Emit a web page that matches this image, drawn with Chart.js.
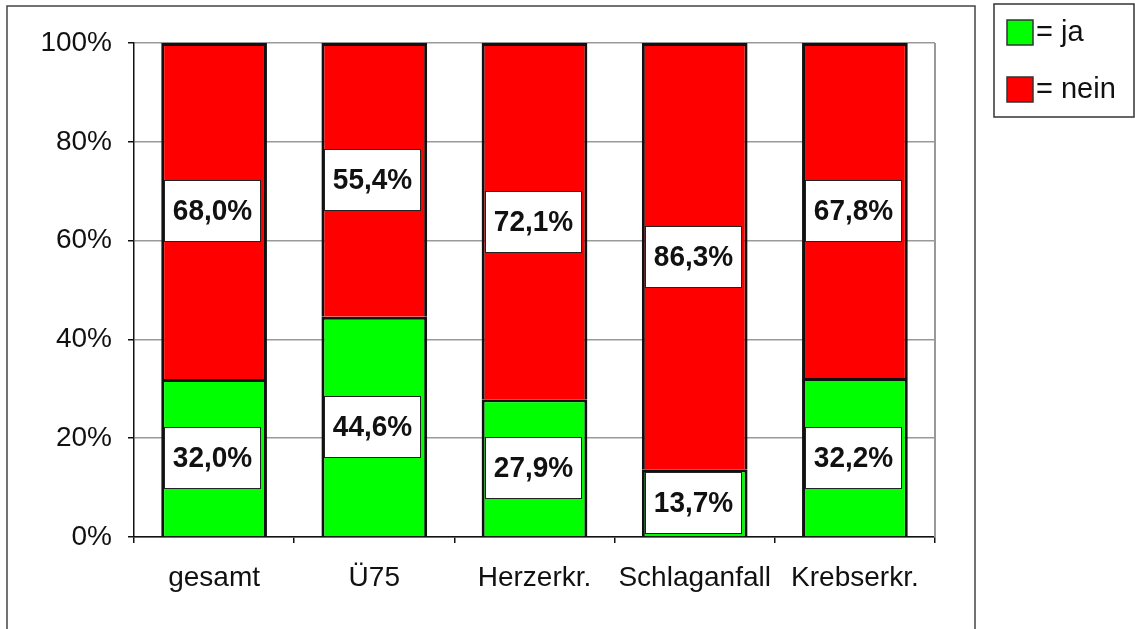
<!DOCTYPE html>
<html>
<head>
<meta charset="utf-8">
<script src="https://cdn.jsdelivr.net/npm/chart.js@4/dist/chart.umd.min.js"></script>
<style>
  body { margin: 0; background: #fff; }
  #wrap { width: 1135px; height: 629px; }
</style>
</head>
<body>
<div id="wrap"><canvas id="c" width="1135" height="629"></canvas></div>
<script>
const categories = ['gesamt', 'Ü75', 'Herzerkr.', 'Schlaganfall', 'Krebserkr.'];
const jaValues = [32.0, 44.6, 27.9, 13.7, 32.2];
const neinValues = [68.0, 55.4, 72.1, 86.3, 67.8];
const seriesNames = ['ja', 'nein'];
const seriesColors = ['#00ff00', '#ff0000'];
const yTicks = [0, 20, 40, 60, 80, 100];

const FONT = '"Liberation Sans", Arial, sans-serif';

// frame, plot border, value boxes and legend box (excel style)
const decor = {
  id: 'decor',
  beforeDraw(chart) {
    const ctx = chart.ctx;
    ctx.save();
    ctx.fillStyle = '#fff';
    ctx.fillRect(0, 0, chart.width, chart.height);
    ctx.strokeStyle = '#444';
    ctx.lineWidth = 1.5;
    ctx.strokeRect(7, 6, 968, 640);
    ctx.restore();
  },
  beforeDatasetsDraw(chart) {
    const ctx = chart.ctx, a = chart.chartArea;
    ctx.save();
    ctx.strokeStyle = '#999';
    ctx.lineWidth = 2;
    ctx.beginPath();
    ctx.moveTo(a.right, a.top);
    ctx.lineTo(a.right, a.bottom);
    ctx.stroke();
    ctx.restore();
  },
  afterDatasetsDraw(chart) {
    const ctx = chart.ctx;
    ctx.save();
    chart.data.datasets.forEach((ds, i) => {
      chart.getDatasetMeta(i).data.forEach((bar, j) => {
        const cy = (bar.y + bar.base) / 2;
        const txt = ds.data[j].toFixed(1).replace('.', ',') + '%';
        const w = 96, h = 61;
        const x0 = Math.round(bar.x - w / 2 - 2) + 0.5, y0 = Math.round(cy - h / 2) + 0.5;
        ctx.fillStyle = '#fff';
        ctx.fillRect(x0, y0, w, h);
        ctx.strokeStyle = '#222';
        ctx.lineWidth = 1;
        ctx.strokeRect(x0, y0, w, h);
        ctx.fillStyle = '#111';
        ctx.font = 'bold 28px ' + FONT;
        ctx.textAlign = 'center';
        ctx.textBaseline = 'middle';
        ctx.save();
        ctx.translate(x0 + w / 2, y0 + h / 2 + 1);
        ctx.scale(1, 1.08);
        ctx.fillText(txt, 0, 0);
        ctx.restore();
      });
    });
    ctx.restore();
  },
  afterDraw(chart) {
    const ctx = chart.ctx;
    ctx.save();
    ctx.strokeStyle = '#333';
    ctx.lineWidth = 1.5;
    ctx.strokeRect(994, 4, 140, 113);
    chart.data.datasets.forEach((ds, i) => {
      const y = 20 + i * 57;
      ctx.fillStyle = ds.backgroundColor;
      ctx.fillRect(1007, y, 26, 25);
      ctx.strokeStyle = '#333';
      ctx.lineWidth = 1.5;
      ctx.strokeRect(1007, y, 26, 25);
      ctx.fillStyle = '#111';
      ctx.font = '29px ' + FONT;
      ctx.textAlign = 'left';
      ctx.textBaseline = 'middle';
      ctx.fillText('= ' + ds.label, 1036, y + 13);
    });
    ctx.restore();
  }
};

new Chart(document.getElementById('c'), {
  type: 'bar',
  data: {
    labels: categories,
    datasets: [
      { label: seriesNames[0], data: jaValues, backgroundColor: seriesColors[0] },
      { label: seriesNames[1], data: neinValues, backgroundColor: seriesColors[1] }
    ]
  },
  options: {
    responsive: false,
    animation: false,
    layout: { padding: { left: 0, right: 200, top: 43, bottom: 0 } },
    datasets: {
      bar: {
        borderColor: '#111',
        borderWidth: 3,
        categoryPercentage: 1,
        barPercentage: 0.66
      }
    },
    plugins: {
      legend: { display: false },
      tooltip: { enabled: false }
    },
    scales: {
      x: {
        stacked: true,
        afterFit(s) { s.height = 92; },
        grid: { offset: true, drawOnChartArea: false, drawTicks: true, tickLength: 6, color: '#111', lineWidth: 1.5 },
        border: { color: '#111', width: 1.5 },
        ticks: { color: '#111', padding: 18, font: { family: FONT, size: 28 } }
      },
      y: {
        stacked: true,
        min: 0,
        max: 100,
        afterFit(s) { s.width = 134; },
        afterBuildTicks(s) { s.ticks = yTicks.map(v => ({ value: v })); },
        grid: { color: '#999', lineWidth: 1.5, tickLength: 6, tickColor: '#111' },
        border: { color: '#111', width: 1.5 },
        ticks: {
          color: '#111',
          padding: 16,
          font: { family: FONT, size: 28 },
          callback: v => v + '%'
        }
      }
    }
  },
  plugins: [decor]
});
</script>
</body>
</html>
